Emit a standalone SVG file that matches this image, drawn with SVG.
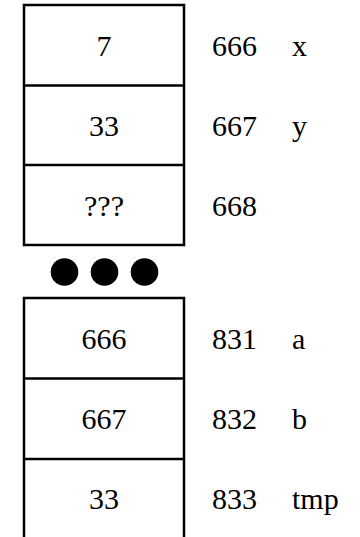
<svg xmlns="http://www.w3.org/2000/svg" width="360" height="537" viewBox="0 0 360 537">
<style>
.ln{stroke:#000;stroke-width:2.5;fill:none}
text{font-family:"Liberation Serif","Times New Roman",Times,serif;font-size:30px;fill:#000}
.c{text-anchor:middle}
</style>
<rect width="360" height="537" fill="#fff"/>
<g id="connectors"></g>
<g id="top-block">
<path class="ln" d="M24,5 H184 V245 H24 Z M24,85.5 H184 M24,165 H184"/>
</g>
<g id="cell-x">
<text class="c" x="104" y="56">7</text>
<text x="212" y="56">666</text>
<text x="292" y="56">x</text>
</g>
<g id="cell-y">
<text class="c" x="104" y="136">33</text>
<text x="212" y="136">667</text>
<text x="292" y="136">y</text>
</g>
<g id="cell-668">
<text class="c" x="104" y="216">???</text>
<text x="212" y="216">668</text>
</g>
<g id="dots">
<circle cx="64.5" cy="272" r="13.8"/>
<circle cx="104.5" cy="272" r="13.8"/>
<circle cx="144.5" cy="272" r="13.8"/>
</g>
<g id="bottom-block">
<path class="ln" d="M24,540 V298 H184 V540 M24,378.5 H184 M24,459 H184"/>
</g>
<g id="cell-a">
<text class="c" x="104" y="349">666</text>
<text x="212" y="349">831</text>
<text x="292" y="349">a</text>
</g>
<g id="cell-b">
<text class="c" x="104" y="429">667</text>
<text x="212" y="429">832</text>
<text x="292" y="429">b</text>
</g>
<g id="cell-tmp">
<text class="c" x="104" y="509">33</text>
<text x="212" y="509">833</text>
<text x="292" y="509">tmp</text>
</g>
</svg>
